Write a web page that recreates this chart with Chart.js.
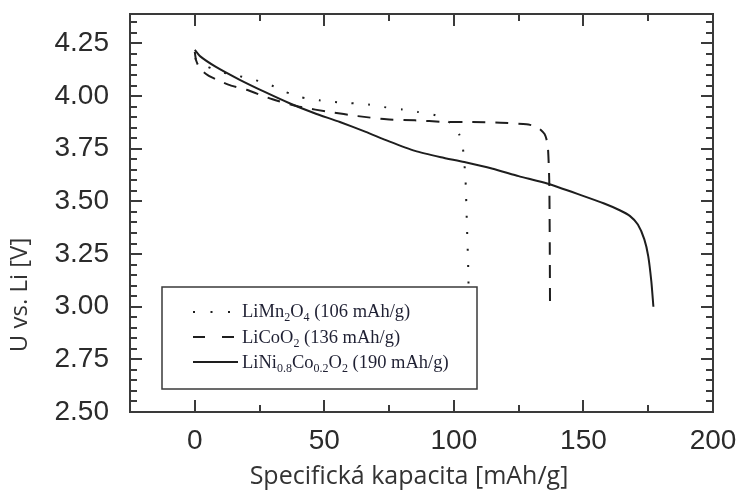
<!DOCTYPE html>
<html>
<head>
<meta charset="utf-8">
<script src="https://cdn.jsdelivr.net/npm/chart.js@4.4.1/dist/chart.umd.min.js"></script>
<style>
  html, body { margin: 0; padding: 0; background: #fff; }
</style>
</head>
<body>
<canvas id="chart" width="740" height="497"></canvas>
<script>
// Entladekurven: Kapazität [mAh/g] und Spannung [V] je Kathodenmaterial
const mnCapacity = [0, 5, 10, 15.5, 22, 28, 35, 41, 48, 54, 60, 67, 73, 80, 86, 93, 99, 102, 103.5, 104.5, 105, 105.5, 105.8];
const mnVoltage  = [4.18, 4.14, 4.115, 4.10, 4.08, 4.06, 4.02, 3.995, 3.98, 3.972, 3.967, 3.96, 3.948, 3.937, 3.925, 3.909, 3.87, 3.82, 3.75, 3.6, 3.4, 3.2, 3.0];

const coCapacity = [0, 0.5, 2, 5, 9, 14, 20, 30, 41, 52, 63, 74, 85, 96, 107, 118, 128, 132, 135, 136.2, 136.8, 137, 137.1];
const coVoltage  = [4.21, 4.17, 4.13, 4.10, 4.075, 4.05, 4.03, 3.985, 3.948, 3.925, 3.905, 3.89, 3.885, 3.878, 3.877, 3.874, 3.866, 3.855, 3.82, 3.77, 3.6, 3.3, 3.0];

const niCapacity = [0, 2, 8, 17, 27, 37, 46, 56, 66, 75, 85, 95, 104, 115, 125, 136, 149, 158, 164, 168, 171, 173.5, 175, 176.2, 177];
const niVoltage  = [4.22, 4.19, 4.14, 4.08, 4.02, 3.964, 3.92, 3.877, 3.83, 3.785, 3.74, 3.71, 3.687, 3.655, 3.62, 3.585, 3.53, 3.49, 3.458, 3.43, 3.39, 3.32, 3.24, 3.12, 3.0];

// Achsenbeschriftungen
const xTickLabels = [0, 50, 100, 150, 200];
const yTickLabels = [2.5, 2.75, 3.0, 3.25, 3.5, 3.75, 4.0, 4.25];
const xTitle = "Specifická kapacita [mAh/g]";
const yTitle = "U vs. Li [V]";

// Legendentexte (Teil, tiefgestellt?)
const mnLabel = [["LiMn"], ["2", true], ["O"], ["4", true], [" (106 mAh/g)"]];
const coLabel = [["LiCoO"], ["2", true], [" (136 mAh/g)"]];
const niLabel = [["LiNi"], ["0.8", true], ["Co"], ["0.2", true], ["O"], ["2", true], [" (190 mAh/g)"]];

const lineColor = "#1e1e1e";
const frameColor = "#3a3a3a";

function toPoints(xs, ys) {
  return xs.map((x, i) => ({ x: x, y: ys[i] }));
}

/**
 * Text mit tiefgestellten Teilen zeichnen
 */
function drawRich(ctx, x, baseline, parts) {
  parts.forEach(part => {
    const sub = part[1] === true;
    ctx.font = sub ? '12px "Liberation Serif"' : '18.5px "Liberation Serif"';
    ctx.fillText(part[0], x, sub ? baseline + 4 : baseline);
    x += ctx.measureText(part[0]).width;
  });
}

// Rahmen, Innenticks, Legende und Achsentitel
const framePlugin = {
  id: "frame",
  afterDatasetsDraw(chart) {
    const ctx = chart.ctx;
    const area = chart.chartArea;
    const xs = chart.scales.x;
    const ys = chart.scales.y;
    ctx.save();
    ctx.strokeStyle = frameColor;
    ctx.lineWidth = 2;

    // Ticks X (alle 25, Haupt alle 50)
    for (let v = -25; v <= 200; v += 25) {
      if (v === -25 || v === 200) continue;
      const px = Math.round(xs.getPixelForValue(v));
      const len = v % 50 === 0 ? 12 : 7;
      ctx.beginPath();
      ctx.moveTo(px, area.bottom);
      ctx.lineTo(px, area.bottom - len);
      ctx.moveTo(px, area.top);
      ctx.lineTo(px, area.top + len);
      ctx.stroke();
    }
    // Ticks Y (alle 0.05, Haupt alle 0.25)
    for (let i = 1; i <= 37; i++) {
      const py = Math.round(ys.getPixelForValue(2.5 + i * 0.05));
      const len = i % 5 === 0 ? 12 : 7;
      ctx.beginPath();
      ctx.moveTo(area.left, py);
      ctx.lineTo(area.left + len, py);
      ctx.moveTo(area.right, py);
      ctx.lineTo(area.right - len, py);
      ctx.stroke();
    }
    ctx.strokeRect(area.left, area.top, area.right - area.left, area.bottom - area.top);

    // Legende
    ctx.fillStyle = "#fff";
    ctx.fillRect(162, 287, 315, 102);
    ctx.lineWidth = 1.5;
    ctx.strokeRect(162, 287, 315, 102);

    ctx.strokeStyle = lineColor;
    ctx.lineWidth = 2;
    ctx.setLineDash([2, 15.5]);
    ctx.beginPath(); ctx.moveTo(193, 312); ctx.lineTo(240, 312); ctx.stroke();
    ctx.setLineDash([12, 17]);
    ctx.beginPath(); ctx.moveTo(193, 337); ctx.lineTo(238, 337); ctx.stroke();
    ctx.setLineDash([]);
    ctx.beginPath(); ctx.moveTo(193, 362); ctx.lineTo(238, 362); ctx.stroke();

    ctx.fillStyle = "#1f2033";
    ctx.textBaseline = "alphabetic";
    ctx.textAlign = "left";
    drawRich(ctx, 242, 317, mnLabel);
    drawRich(ctx, 242, 343, coLabel);
    drawRich(ctx, 242, 368, niLabel);

    // Achsentitel
    ctx.fillStyle = "#333";
    ctx.textBaseline = "middle";
    ctx.textAlign = "center";
    ctx.font = '25px "Open Sans"';
    ctx.fillText(xTitle, 409, 477);

    ctx.font = '24px "Open Sans"';
    ctx.save();
    ctx.translate(20, 295);
    ctx.rotate(-Math.PI / 2);
    ctx.fillText(yTitle, 0, 0);
    ctx.restore();

    ctx.restore();
  }
};

const tickFont = { family: '"Liberation Sans", Arial, sans-serif', size: 28 };

new Chart(document.getElementById("chart"), {
  type: "scatter",
  data: {
    datasets: [
      {
        data: toPoints(mnCapacity, mnVoltage),
        showLine: true,
        borderColor: lineColor,
        borderWidth: 2,
        borderDash: [2, 14.5],
        pointRadius: 0,
        tension: 0.2
      },
      {
        data: toPoints(coCapacity, coVoltage),
        showLine: true,
        borderColor: lineColor,
        borderWidth: 2,
        borderDash: [13, 10],
        pointRadius: 0,
        tension: 0.2
      },
      {
        data: toPoints(niCapacity, niVoltage),
        showLine: true,
        borderColor: lineColor,
        borderWidth: 2,
        pointRadius: 0,
        tension: 0.2
      }
    ]
  },
  options: {
    responsive: false,
    devicePixelRatio: 1,
    animation: false,
    layout: { padding: { top: 14, right: 27, left: 0, bottom: 0 } },
    plugins: {
      legend: { display: false },
      tooltip: { enabled: false }
    },
    scales: {
      x: {
        type: "linear",
        min: -25,
        max: 200,
        afterBuildTicks: scale => {
          scale.ticks = xTickLabels.map(v => ({ value: v }));
        },
        afterFit: scale => {
          scale.height = 85;
          scale.paddingLeft = 0;
          scale.paddingRight = 0;
        },
        grid: { display: false },
        border: { display: false },
        ticks: {
          padding: 4,
          font: tickFont,
          color: "#2b2b2b",
          maxRotation: 0,
          autoSkip: false
        }
      },
      y: {
        type: "linear",
        min: 2.5,
        max: 4.39,
        afterBuildTicks: scale => {
          scale.ticks = yTickLabels.map(v => ({ value: v }));
        },
        afterFit: scale => {
          scale.width = 130;
          scale.paddingTop = 0;
          scale.paddingBottom = 0;
        },
        grid: { display: false },
        border: { display: false },
        ticks: {
          padding: 13,
          font: tickFont,
          color: "#2b2b2b",
          autoSkip: false,
          callback: v => v.toFixed(2)
        }
      }
    }
  },
  plugins: [framePlugin]
});
</script>
</body>
</html>
